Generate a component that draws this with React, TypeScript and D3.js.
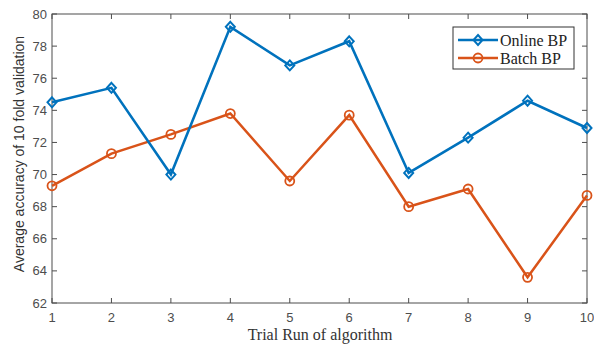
import React from 'react';
import * as d3 from 'd3';

const trials = [1, 2, 3, 4, 5, 6, 7, 8, 9, 10];
const onlineBP = [74.5, 75.4, 70.0, 79.2, 76.8, 78.3, 70.1, 72.3, 74.6, 72.9];
const batchBP = [69.3, 71.3, 72.5, 73.8, 69.6, 73.7, 68.0, 69.1, 63.6, 68.7];
const yTicks = [62, 64, 66, 68, 70, 72, 74, 76, 78, 80];

const W = 594;
const H = 346;
const margin = { top: 14, right: 7, bottom: 43, left: 52 };

const BLUE = '#0072BD';
const ORANGE = '#D95319';
const AXIS = '#4d4d4d';

const App = () => {
    const x = d3.scaleLinear().domain([1, 10]).range([margin.left, W - margin.right]);
    const y = d3.scaleLinear().domain([62, 80]).range([H - margin.bottom, margin.top]);

    const line = d3
        .line<number>()
        .x((_, i) => x(trials[i]))
        .y(d => y(d));

    const x0 = margin.left;
    const x1 = W - margin.right;
    const y0 = H - margin.bottom;
    const y1 = margin.top;
    const tick = 5;

    const diamond = (cx: number, cy: number) =>
        `M${cx},${cy - 5}L${cx + 4.5},${cy}L${cx},${cy + 5}L${cx - 4.5},${cy}Z`;

    return (
        <svg
            width={W}
            height={H}
            style={{ position: 'absolute', left: 0, top: 0, background: '#fff' }}
        >
            {/* axis box */}
            <rect x={x0} y={y1} width={x1 - x0} height={y0 - y1} fill="none" stroke={AXIS} strokeWidth={1} />

            {/* x ticks */}
            {trials.map(t => (
                <g key={'xt' + t}>
                    <line x1={x(t)} x2={x(t)} y1={y0} y2={y0 - tick} stroke={AXIS} />
                    <line x1={x(t)} x2={x(t)} y1={y1} y2={y1 + tick} stroke={AXIS} />
                    <text
                        x={x(t)}
                        y={y0 + 19}
                        textAnchor="middle"
                        fontFamily="Liberation Sans, Arial, sans-serif"
                        fontSize={13}
                        fill={AXIS}
                    >
                        {t}
                    </text>
                </g>
            ))}

            {/* y ticks */}
            {yTicks.map(t => (
                <g key={'yt' + t}>
                    <line x1={x0} x2={x0 + tick} y1={y(t)} y2={y(t)} stroke={AXIS} />
                    <line x1={x1} x2={x1 - tick} y1={y(t)} y2={y(t)} stroke={AXIS} />
                    <text
                        x={x0 - 5}
                        y={y(t) + 4.5}
                        textAnchor="end"
                        fontFamily="Liberation Sans, Arial, sans-serif"
                        fontSize={13}
                        fill={AXIS}
                    >
                        {t}
                    </text>
                </g>
            ))}

            {/* axis labels */}
            <text
                x={320}
                y={H - 6}
                textAnchor="middle"
                fontFamily="Liberation Serif, Times New Roman, serif"
                fontSize={16}
                fill="#333"
            >
                Trial Run of algorithm
            </text>
            <text
                transform={`translate(24,154) rotate(-90)`}
                textAnchor="middle"
                fontFamily="Liberation Sans, Arial, sans-serif"
                fontSize={14}
                fill="#333"
            >
                Average accuracy of 10 fold validation
            </text>

            {/* series */}
            <path d={line(batchBP) || ''} fill="none" stroke={ORANGE} strokeWidth={2.5} />
            {batchBP.map((v, i) => (
                <circle key={'b' + i} cx={x(trials[i])} cy={y(v)} r={4.5} fill="none" stroke={ORANGE} strokeWidth={1.8} />
            ))}
            <path d={line(onlineBP) || ''} fill="none" stroke={BLUE} strokeWidth={2.6} />
            {onlineBP.map((v, i) => (
                <path key={'o' + i} d={diamond(x(trials[i]), y(v))} fill="none" stroke={BLUE} strokeWidth={2} />
            ))}

            {/* legend */}
            <g>
                <rect x={453} y={27} width={121} height={42} fill="#fff" stroke="#333" strokeWidth={1} />
                <line x1={458} x2={498} y1={40} y2={40} stroke={BLUE} strokeWidth={2.6} />
                <path d={diamond(478, 40)} fill="none" stroke={BLUE} strokeWidth={2} />
                <text x={500} y={45.5} fontFamily="Liberation Serif, Times New Roman, serif" fontSize={16} fill="#222">
                    Online BP
                </text>
                <line x1={458} x2={498} y1={58} y2={58} stroke={ORANGE} strokeWidth={2.5} />
                <circle cx={478} cy={58} r={4.5} fill="none" stroke={ORANGE} strokeWidth={1.8} />
                <text x={500} y={63.5} fontFamily="Liberation Serif, Times New Roman, serif" fontSize={16} fill="#222">
                    Batch BP
                </text>
            </g>
        </svg>
    );
};

export default App;
